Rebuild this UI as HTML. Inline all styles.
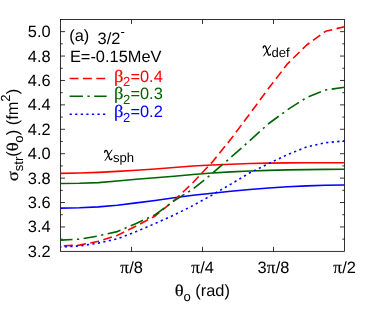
<!DOCTYPE html>
<html><head><meta charset="utf-8"><title>plot</title>
<style>
html,body{margin:0;padding:0;background:#fff;}
svg{display:block;will-change:transform;}
text{text-rendering:geometricPrecision;font-family:"Liberation Sans",sans-serif;fill:#000;white-space:pre;}
.sy{font-family:"Liberation Serif",serif;stroke:#000;stroke-width:0.18px;}
.si{font-style:italic;}
.sx{stroke-width:0;}
</style></head><body>
<svg width="374" height="320" viewBox="0 0 374 320">
<rect x="0" y="0" width="374" height="320" fill="#fff"/>
<path d="M60.53 239.14h2.25M344.5 239.14h-2.25M60.53 226.94h4.5M344.5 226.94h-4.5M60.53 214.73h2.25M344.5 214.73h-2.25M60.53 202.52h4.5M344.5 202.52h-4.5M60.53 190.32h2.25M344.5 190.32h-2.25M60.53 178.11h4.5M344.5 178.11h-4.5M60.53 165.91h2.25M344.5 165.91h-2.25M60.53 153.70h4.5M344.5 153.70h-4.5M60.53 141.49h2.25M344.5 141.49h-2.25M60.53 129.29h4.5M344.5 129.29h-4.5M60.53 117.08h2.25M344.5 117.08h-2.25M60.53 104.87h4.5M344.5 104.87h-4.5M60.53 92.67h2.25M344.5 92.67h-2.25M60.53 80.46h4.5M344.5 80.46h-4.5M60.53 68.26h2.25M344.5 68.26h-2.25M60.53 56.05h4.5M344.5 56.05h-4.5M60.53 43.84h2.25M344.5 43.84h-2.25M60.53 31.64h4.5M344.5 31.64h-4.5M131.52 251.35v-4.5M131.52 19.43v4.5M202.52 251.35v-4.5M202.52 19.43v4.5M273.51 251.35v-4.5M273.51 19.43v4.5" stroke="#000" stroke-width="0.8" fill="none"/>
<rect x="60.53" y="19.43" width="283.97" height="231.92" fill="none" stroke="#000" stroke-width="0.8"/>
<polyline points="60.53,173.35 79.46,173.05 98.39,172.35 117.32,171.35 136.26,170.25 155.19,168.95 174.12,167.45 193.05,166.05 211.98,165.05 230.91,164.20 249.84,163.55 268.77,163.15 287.71,162.90 306.64,162.80 325.57,162.80 344.50,162.80" fill="none" stroke="#ff0000" stroke-width="1.6" stroke-linejoin="round"/>
<polyline points="60.53,183.50 79.46,183.30 98.39,182.60 117.32,181.00 136.26,179.30 155.19,177.80 174.12,176.20 193.05,174.50 211.98,173.00 230.91,171.90 249.84,171.00 268.77,170.40 287.71,169.90 306.64,169.60 325.57,169.40 344.50,169.30" fill="none" stroke="#006400" stroke-width="1.6" stroke-linejoin="round"/>
<polyline points="60.53,208.10 79.46,207.80 98.39,206.90 117.32,205.20 136.26,202.90 155.19,200.50 174.12,197.80 193.05,195.20 211.98,193.20 230.91,191.20 249.84,189.50 268.77,188.00 287.71,186.80 306.64,185.90 325.57,185.30 344.50,185.00" fill="none" stroke="#0000ff" stroke-width="1.6" stroke-linejoin="round"/>
<polyline points="60.53,245.90 79.46,245.10 98.39,241.30 117.32,235.40 136.26,226.00 155.19,216.00 174.12,200.40 193.05,182.50 211.98,162.40 230.91,139.10 249.84,113.75 268.77,88.10 287.71,63.60 306.64,45.00 325.57,31.30 344.50,26.70" fill="none" stroke="#ff0000" stroke-width="1.6" stroke-linejoin="round" stroke-dasharray="8.92 4.46" stroke-dashoffset="10.1"/>
<polyline points="60.53,240.10 79.46,239.20 98.39,235.90 117.32,231.60 136.26,223.40 155.19,214.75 174.12,200.80 193.05,189.00 211.98,173.70 230.91,157.30 249.84,140.60 268.77,123.50 287.71,109.70 306.64,97.50 325.57,90.00 344.50,87.20" fill="none" stroke="#006400" stroke-width="1.6" stroke-linejoin="round" stroke-dasharray="13.38 4.46 2.23 4.46" stroke-dashoffset="1.4"/>
<polyline points="60.53,246.90 79.46,246.00 98.39,243.10 117.32,238.75 136.26,231.60 155.19,223.50 174.12,215.00 193.05,205.50 211.98,195.10 230.91,184.10 249.84,172.80 268.77,163.50 287.71,154.50 306.64,147.00 325.57,142.70 344.50,140.90" fill="none" stroke="#0000ff" stroke-width="1.6" stroke-linejoin="round" stroke-dasharray="2.23 3.34" stroke-dashoffset="1.4"/>
<text x="27.80" y="256.85" font-size="16.40">3.2</text>
<text x="27.80" y="232.44" font-size="16.40">3.4</text>
<text x="27.80" y="208.02" font-size="16.40">3.6</text>
<text x="27.80" y="183.61" font-size="16.40">3.8</text>
<text x="27.80" y="159.20" font-size="16.40">4.0</text>
<text x="27.80" y="134.79" font-size="16.40">4.2</text>
<text x="27.80" y="110.37" font-size="16.40">4.4</text>
<text x="27.80" y="85.96" font-size="16.40">4.6</text>
<text x="27.80" y="61.55" font-size="16.40">4.8</text>
<text x="27.80" y="37.14" font-size="16.40">5.0</text>
<text class="sy si" transform="translate(120.91,272.74) scale(1.0415,1.0795) skewX(10)" font-size="16.40">π</text><text x="129.19" y="272.60" font-size="16.40">/8</text>
<text class="sy si" transform="translate(191.90,272.74) scale(1.0415,1.0795) skewX(10)" font-size="16.40">π</text><text x="200.18" y="272.60" font-size="16.40">/4</text>
<text x="257.61" y="272.60" font-size="16.40">3</text><text class="sy si" transform="translate(267.45,272.74) scale(1.0415,1.0795) skewX(10)" font-size="16.40">π</text><text x="275.73" y="272.60" font-size="16.40">/8</text>
<text class="sy si" transform="translate(333.89,272.74) scale(1.0415,1.0795) skewX(10)" font-size="16.40">π</text><text x="342.16" y="272.60" font-size="16.40">/2</text>
<text class="sy" transform="translate(174.72,296.32) scale(1.1344,0.9972)" font-size="16.40">θ</text><text x="183.43" y="301.12" font-size="13.12">o</text><text x="190.73" y="296.20" font-size="16.40"> (rad)</text>
<g transform="translate(18,135) rotate(-90)"><text class="sy" transform="translate(-46.34,0.18) scale(1.1485,0.9991)" font-size="16.40">σ</text><text x="-36.22" y="4.92" font-size="13.12">str</text><text x="-21.65" y="0.00" font-size="16.40">(</text><text class="sy" transform="translate(-16.35,0.12) scale(1.1344,0.9972)" font-size="16.40">θ</text><text x="-7.64" y="4.92" font-size="13.12">o</text><text x="-0.34" y="0.00" font-size="16.40">) (fm</text><text x="33.35" y="-8.20" font-size="13.12">2</text><text x="40.65" y="0.00" font-size="16.40">)</text></g>
<text x="69.30" y="41.40" font-size="16.40">(a)</text>
<text x="97.60" y="43.90" font-size="16.40">3/2</text><text x="120.40" y="35.70" font-size="13.12">-</text>
<text x="69.90" y="62.30" font-size="16.40">E=-0.15MeV</text>
<line x1="69.6" y1="78.5" x2="106.6" y2="78.5" stroke="#ff0000" stroke-width="1.6" stroke-dasharray="8.92 4.46"/>
<text class="sy" transform="translate(113.91,81.54) scale(1.1298,1.0513)" font-size="16.40" style="fill:#ff0000;stroke:#ff0000">β</text><text x="123.10" y="86.47" font-size="13.12" style="fill:#ff0000">2</text><text x="130.40" y="81.55" font-size="16.40" style="fill:#ff0000">=0.4</text>
<line x1="69.6" y1="96.2" x2="106.6" y2="96.2" stroke="#006400" stroke-width="1.6" stroke-dasharray="13.38 4.46 2.23 4.46"/>
<text class="sy" transform="translate(113.91,99.24) scale(1.1298,1.0513)" font-size="16.40" style="fill:#006400;stroke:#006400">β</text><text x="123.10" y="104.17" font-size="13.12" style="fill:#006400">2</text><text x="130.40" y="99.25" font-size="16.40" style="fill:#006400">=0.3</text>
<line x1="69.6" y1="114.2" x2="106.6" y2="114.2" stroke="#0000ff" stroke-width="1.6" stroke-dasharray="2.23 3.34"/>
<text class="sy" transform="translate(113.91,117.24) scale(1.1298,1.0513)" font-size="16.40" style="fill:#0000ff;stroke:#0000ff">β</text><text x="123.10" y="122.17" font-size="13.12" style="fill:#0000ff">2</text><text x="130.40" y="117.25" font-size="16.40" style="fill:#0000ff">=0.2</text>
<g transform="translate(103.90,156.90) scale(1.000)" fill="none" stroke="#000" stroke-linecap="round"><title>χ</title><path d="M0.75 -4.59C0.90 -6.27 2.00 -6.92 2.90 -6.17C3.90 -5.24 4.90 0.55 5.90 2.14C6.50 3.07 7.60 2.88 8.00 1.76" stroke-width="1.3"/><path d="M8.00 -6.83L1.20 3.54" stroke-width="1.0"/></g><text x="112.90" y="161.82" font-size="13.12">sph</text>
<g transform="translate(262.50,52.40) scale(1.000)" fill="none" stroke="#000" stroke-linecap="round"><title>χ</title><path d="M0.75 -4.59C0.90 -6.27 2.00 -6.92 2.90 -6.17C3.90 -5.24 4.90 0.55 5.90 2.14C6.50 3.07 7.60 2.88 8.00 1.76" stroke-width="1.3"/><path d="M8.00 -6.83L1.20 3.54" stroke-width="1.0"/></g><text x="271.50" y="57.32" font-size="13.12">def</text>
</svg></body></html>
